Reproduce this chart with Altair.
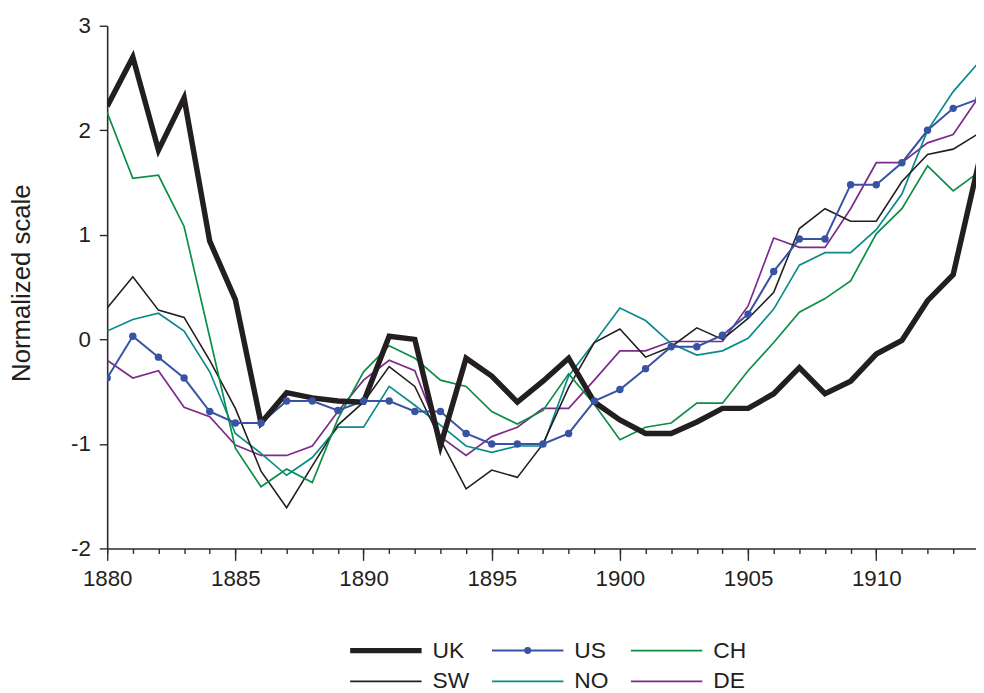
import altair as alt
import pandas as pd

years = list(range(1880, 1915))
series = ["UK", "US", "CH", "SW", "NO", "DE"]

uk = [2.23, 2.70, 1.81, 2.31, 0.94, 0.38, -0.80, -0.51, -0.56, -0.59,
      -0.60, 0.03, 0.00, -1.02, -0.18, -0.35, -0.60, -0.40, -0.18, -0.60,
      -0.77, -0.90, -0.90, -0.79, -0.66, -0.66, -0.52, -0.27, -0.52, -0.40,
      -0.14, -0.01, 0.37, 0.62, 1.69]
us = [-0.37, 0.03, -0.17, -0.37, -0.69, -0.80, -0.80, -0.59, -0.59, -0.68,
      -0.59, -0.59, -0.69, -0.69, -0.90, -1.00, -1.00, -1.00, -0.90, -0.59,
      -0.48, -0.28, -0.07, -0.07, 0.04, 0.24, 0.65, 0.96, 0.96, 1.48,
      1.48, 1.69, 2.00, 2.21, 2.30]
ch = [2.17, 1.54, 1.57, 1.08, 0.02, -1.04, -1.41, -1.24, -1.37, -0.76,
      -0.31, -0.06, -0.18, -0.39, -0.45, -0.69, -0.81, -0.68, -0.33, -0.62,
      -0.96, -0.84, -0.80, -0.61, -0.61, -0.30, -0.03, 0.26, 0.39, 0.56,
      1.01, 1.25, 1.66, 1.42, 1.60]
sw = [0.30, 0.60, 0.28, 0.21, -0.20, -0.66, -1.26, -1.61, -1.21, -0.82,
      -0.60, -0.26, -0.45, -0.96, -1.43, -1.25, -1.32, -1.00, -0.46, -0.03,
      0.10, -0.17, -0.07, 0.11, 0.00, 0.20, 0.45, 1.06, 1.25, 1.13,
      1.13, 1.51, 1.77, 1.82, 1.97]
no = [0.08, 0.19, 0.25, 0.08, -0.31, -0.90, -1.09, -1.30, -1.13, -0.84,
      -0.84, -0.45, -0.63, -0.82, -1.02, -1.08, -1.02, -1.02, -0.35, -0.03,
      0.30, 0.18, -0.04, -0.15, -0.11, 0.01, 0.29, 0.71, 0.83, 0.83,
      1.05, 1.39, 2.00, 2.37, 2.65]
de = [-0.20, -0.37, -0.30, -0.65, -0.74, -1.01, -1.11, -1.11, -1.02, -0.69,
      -0.39, -0.20, -0.30, -0.93, -1.11, -0.93, -0.84, -0.66, -0.66, -0.39,
      -0.11, -0.11, -0.02, -0.02, -0.02, 0.32, 0.97, 0.88, 0.88, 1.25,
      1.69, 1.69, 1.88, 1.96, 2.32]

colors = ["#231f20", "#3953a4", "#0b8e45", "#231f20", "#0b8a8a", "#7c2b8c"]
widths = [5.5, 2.0, 1.7, 1.6, 1.7, 1.7]
y_ticks = [-2, -1, 0, 1, 2, 3]
major_years = [1880, 1885, 1890, 1895, 1900, 1905, 1910]

values_by_series = {"UK": uk, "US": us, "CH": ch, "SW": sw, "NO": no, "DE": de}
draw_order = ["DE", "NO", "SW", "CH", "US", "UK"]
rows = []
for name in draw_order:
    for yr, v in zip(years, values_by_series[name]):
        rows.append({"year": yr, "value": v, "series": name})
df = pd.DataFrame(rows)

FONT = "Liberation Sans"
AX = "#2b2b2b"
TXT = "#231f20"

legend = alt.Legend(
    title=None,
    orient="none",
    legendX=242,
    legendY=616,
    columns=3,
    direction="horizontal",
    symbolType=alt.ExprRef(expr="datum.value === 'US' ? 'M-1,0H1M0.07,0A0.07,0.07,0,1,1,-0.07,0A0.07,0.07,0,1,1,0.07,0Z' : 'stroke'"),
    symbolFillColor=alt.ExprRef(expr="datum.value === 'US' ? '#3953a4' : 'transparent'"),
    symbolSize=5184,
    clipHeight=28,
    rowPadding=3,
    columnPadding=19,
    labelOffset=8,
    labelFont=FONT,
    labelFontSize=23,
    labelColor=TXT,
)

scale_x = alt.Scale(domain=[1880, 1913.89], nice=False, zero=False)
scale_y = alt.Scale(domain=[-2, 3], nice=False, zero=False)

major_axis = alt.Axis(
    orient="bottom",
    values=major_years,
    format="d",
    title=None,
    grid=False,
    tickSize=12,
    labelPadding=7,
    labelFont=FONT,
    labelFontSize=22.5,
    labelColor=TXT,
    labelOverlap=False,
    labelFlush=False,
    domainColor=AX,
    domainWidth=1.6,
    tickColor=AX,
    tickWidth=1.4,
)
minor_axis = alt.Axis(
    orient="bottom",
    values=years,
    labels=False,
    title=None,
    grid=False,
    domain=False,
    tickSize=5,
    tickColor=AX,
    tickWidth=1.4,
)
y_axis = alt.Axis(
    values=y_ticks,
    labelExpr="'' + datum.value",
    title="Normalized scale",
    grid=False,
    tickSize=8,
    labelPadding=9,
    labelFont=FONT,
    labelFontSize=22.5,
    labelColor=TXT,
    titleFont=FONT,
    titleFontSize=26,
    titleFontWeight="normal",
    titleColor=TXT,
    titleX=-78,
    titleY=259,
    titleBaseline="alphabetic",
    domainColor=AX,
    domainWidth=1.6,
    tickColor=AX,
    tickWidth=1.4,
)

lines = alt.Chart(df).mark_line(clip=True).encode(
    x=alt.X("year:Q", scale=scale_x, axis=major_axis),
    y=alt.Y("value:Q", scale=scale_y, axis=y_axis),
    color=alt.Color("series:N", scale=alt.Scale(domain=series, range=colors), legend=legend),
    strokeWidth=alt.StrokeWidth(
        "series:N",
        scale=alt.Scale(type="ordinal", domain=series, range=widths),
        legend=legend,
    ),
    detail="series:N",
)

points = alt.Chart(df).transform_filter(alt.datum.series == "US").mark_point(
    filled=True, size=56, opacity=1, color="#3953a4", clip=True
).encode(
    x=alt.X("year:Q", axis=minor_axis),
    y=alt.Y("value:Q", axis=y_axis),
)

chart = alt.layer(lines, points).resolve_axis(x="independent").properties(
    width=876,
    height=527,
    autosize=alt.AutoSizeParams(type="none"),
    padding={"left": 100, "top": 15, "right": 0, "bottom": 165},
).configure_view(stroke=None)

chart.save("out.html", embed_options={"renderer": "svg", "actions": False})
